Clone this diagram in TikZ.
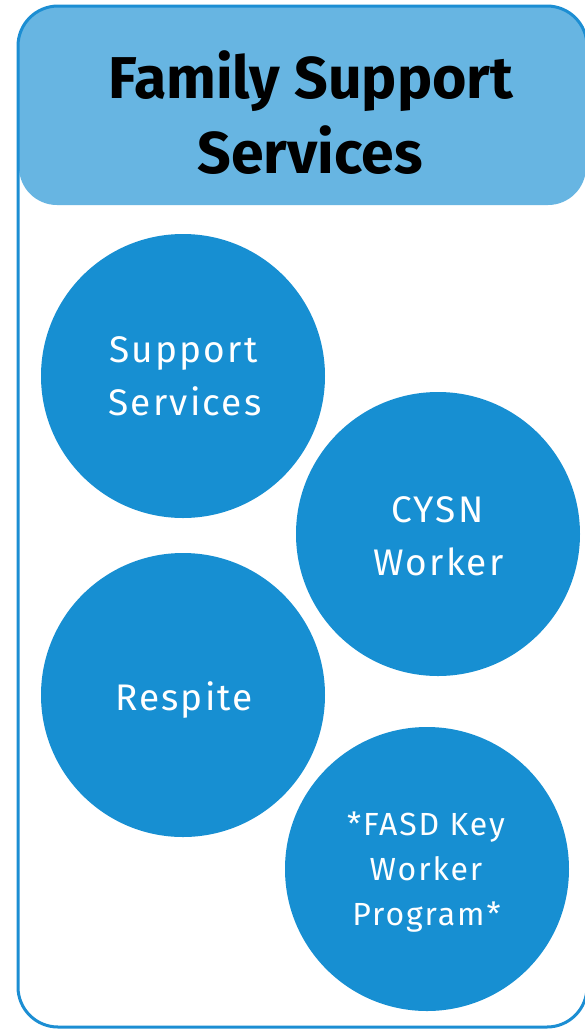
\documentclass[tikz,border=0pt]{standalone}
\usepackage{fontspec}
\setmainfont{Fira Sans}
\newfontfamily\lightf[LetterSpace=6]{Fira Sans}
\definecolor{circ}{RGB}{23,143,210}
\definecolor{head}{RGB}{103,181,226}
\definecolor{edge}{RGB}{28,142,211}
\begin{document}
\begin{tikzpicture}[x=1pt,y=-1pt,
  bubble/.style={circle, fill=circ, minimum size=284pt, inner sep=0pt},
  ttl/.style={anchor=base, font=\bfseries\fontsize{59}{70}\selectfont, text=black, inner sep=0pt},
  lbl/.style={anchor=base, font=\lightf\fontsize{37}{46}\selectfont, text=white, inner sep=0pt},
  lbls/.style={anchor=base, font=\lightf\fontsize{32}{36}\selectfont, text=white, inner sep=0pt}]
\useasboundingbox (0,0) rectangle (585,1029);
\fill[white] (0,0) rectangle (585,1029);
\fill[head, rounded corners=38pt] (19,6) rectangle (586,205);
\draw[edge, line width=3pt, rounded corners=40pt] (18,6) rectangle (587,1027);
\node[ttl] (t1) at (311,98) {Family Support};
\node[ttl] (t2) at (310,173) {Services};
\node[bubble] (c1) at (183,376) {};
\node[bubble] (c2) at (438,534) {};
\node[bubble] (c3) at (183,695) {};
\node[bubble] (c4) at (427,869) {};
\node[lbl] (s1) at (183.5,362) {Support};
\node[lbl] (s2) at (185,415) {Services};
\node[lbl] (w1) at (437.5,522) {CYSN};
\node[lbl] (w2) at (438.5,575) {Worker};
\node[lbl] (r1) at (184,710) {Respite};
\node[lbls] (f1) at (426,835) {*FASD Key};
\node[lbls] (f2) at (426,880) {Worker};
\node[lbls] (f3) at (426.5,925) {Program*};
\end{tikzpicture}
\end{document}
